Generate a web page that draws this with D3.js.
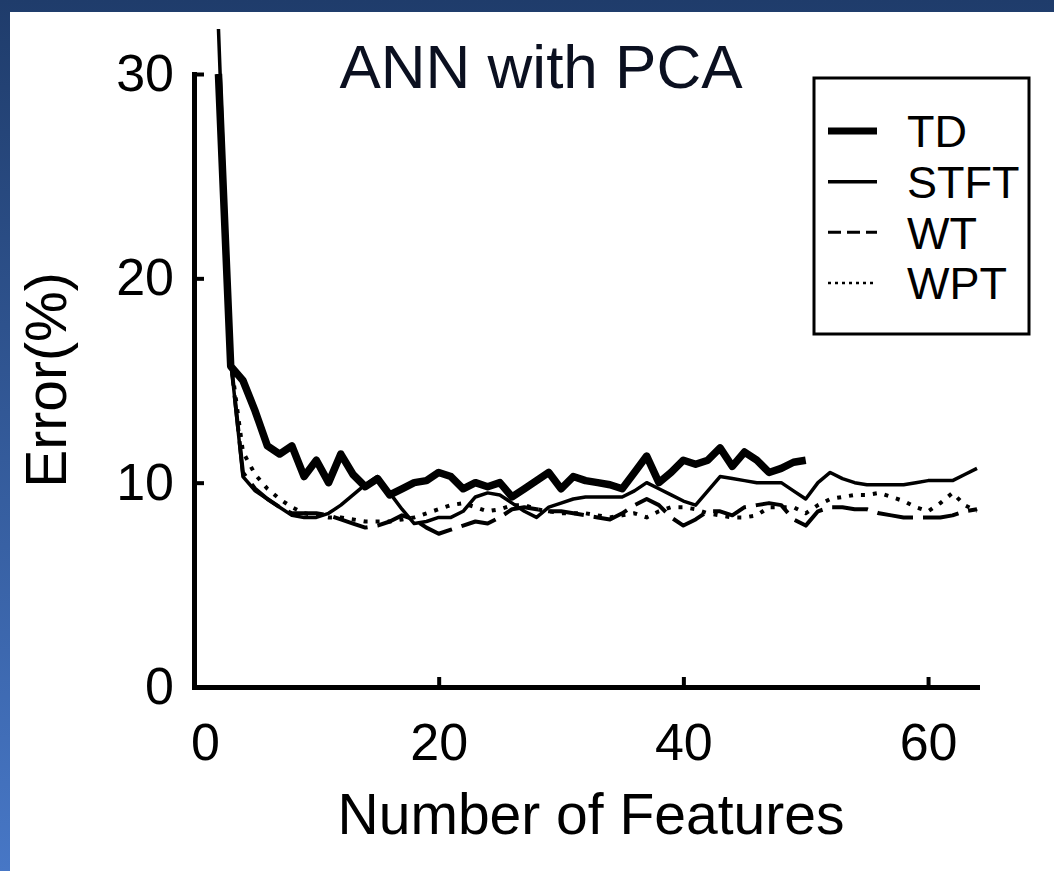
<!DOCTYPE html>
<html>
<head>
<meta charset="utf-8">
<script src="https://cdn.jsdelivr.net/npm/d3@7"></script>
<style>
  html, body { margin: 0; padding: 0; background: #fff; }
  svg { display: block; }
  text { font-family: "Liberation Sans", Arial, sans-serif; }
</style>
</head>
<body>
<svg id="chart" width="1054" height="871"></svg>
<script>
// ---------------- data ----------------
const title = "ANN with PCA";
const xLabel = "Number of Features";
const yLabel = "Error(%)";
const seriesNames = ["TD", "STFT", "WT", "WPT"];
const xTicks = [0, 20, 40, 60];
const yTicks = [0, 10, 20, 30];

// TD: features 2..50
const tdX = d3.range(2, 51);
const tdY = [30.0, 15.7, 15.0, 13.5, 11.8, 11.4, 11.8, 10.3, 11.1, 10.0,
             11.4, 10.4, 9.8, 10.2, 9.4, 9.7, 10.0, 10.1, 10.5, 10.3,
             9.7, 10.0, 9.8, 10.0, 9.3, 9.7, 10.1, 10.5, 9.7, 10.3,
             10.1, 10.0, 9.9, 9.7, 10.5, 11.3, 10.0, 10.5, 11.1, 10.9,
             11.1, 11.7, 10.8, 11.5, 11.1, 10.5, 10.7, 11.0, 11.1];

// STFT: features 2..64
const stftX = d3.range(2, 65);
const stftY = [32.2, 16.0, 10.3, 9.6, 9.2, 8.8, 8.4, 8.3, 8.3, 8.5,
               8.9, 9.4, 9.9, 10.3, 9.5, 8.7, 8.0, 8.1, 8.3, 8.3,
               8.6, 9.3, 9.5, 9.4, 9.0, 8.6, 8.3, 8.8, 9.0, 9.2,
               9.3, 9.3, 9.3, 9.3, 9.6, 10.0, 9.7, 9.4, 9.1, 8.9,
               9.6, 10.3, 10.2, 10.1, 10.0, 10.0, 10.0, 9.6, 9.2, 10.0,
               10.5, 10.2, 10.0, 9.9, 9.9, 9.9, 9.9, 10.0, 10.1, 10.1,
               10.1, 10.4, 10.7];

// WT: features 2..64
const wtX = d3.range(2, 65);
const wtY = [30.0, 16.0, 10.5, 9.7, 9.2, 8.8, 8.5, 8.5, 8.5, 8.4,
             8.2, 8.0, 7.8, 7.9, 8.1, 8.4, 8.2, 7.8, 7.5, 7.7,
             7.9, 8.1, 8.0, 8.3, 8.7, 8.8, 8.7, 8.6, 8.6, 8.5,
             8.4, 8.3, 8.2, 8.5, 8.9, 9.2, 8.9, 8.3, 7.9, 8.2,
             8.6, 8.6, 8.4, 8.8, 8.9, 9.0, 8.9, 8.2, 7.9, 8.6,
             8.8, 8.8, 8.7, 8.7, 8.5, 8.4, 8.3, 8.3, 8.3, 8.3,
             8.4, 8.6, 8.7];

// WPT: features 2..64
const wptX = d3.range(2, 65);
const wptY = [30.0, 16.0, 11.5, 10.4, 9.7, 9.2, 8.8, 8.5, 8.4, 8.3,
              8.3, 8.2, 8.1, 8.1, 8.1, 8.2, 8.3, 8.5, 8.7, 8.9,
              9.0, 8.8, 8.6, 8.7, 8.9, 8.9, 8.7, 8.6, 8.5, 8.5,
              8.5, 8.4, 8.3, 8.4, 8.5, 8.3, 8.6, 8.8, 8.8, 8.7,
              8.5, 8.4, 8.3, 8.3, 8.4, 8.8, 8.8, 8.8, 8.5, 8.9,
              9.2, 9.3, 9.4, 9.4, 9.5, 9.3, 9.1, 8.8, 8.6, 9.0,
              9.5, 8.9, 8.6];

// ---------------- drawing ----------------
const svg = d3.select("#chart");

// blue slide background + white panel
const defs = svg.append("defs");
const grad = defs.append("linearGradient").attr("id", "bg")
  .attr("x1", 0).attr("y1", 0).attr("x2", 0).attr("y2", 1);
grad.append("stop").attr("offset", "0%").attr("stop-color", "#1f3c6b");
grad.append("stop").attr("offset", "100%").attr("stop-color", "#4777c6");
svg.append("rect").attr("width", 1054).attr("height", 871).attr("fill", "url(#bg)");
svg.append("rect").attr("x", 10).attr("y", 12).attr("width", 1044).attr("height", 859).attr("fill", "#fff");

const x = d3.scaleLinear().domain([0, 64]).range([194, 977]);
const y = d3.scaleLinear().domain([0, 30]).range([687, 74]);

// axes
const yAxis = d3.axisLeft(y).tickValues(yTicks).tickSizeInner(-10).tickSizeOuter(0).tickPadding(20);
const xAxis = d3.axisBottom(x).tickValues(xTicks).tickSizeInner(-10).tickSizeOuter(0).tickPadding(36);

const gy = svg.append("g").attr("transform", `translate(${x(0)},0)`).call(yAxis);
const gx = svg.append("g").attr("transform", `translate(0,${y(0)})`).call(xAxis);

[gx, gy].forEach(g => {
  g.select(".domain").attr("stroke", "#000").attr("stroke-width", 5).attr("stroke-linecap", "square");
  g.selectAll(".tick line").attr("stroke", "#000").attr("stroke-width", 4);
  g.selectAll(".tick text").attr("fill", "#000").attr("font-size", 52)
    .attr("font-family", "'Liberation Sans', Arial, sans-serif");
});
gx.selectAll(".tick").filter(d => d === 0).select("line").remove();
gy.selectAll(".tick").filter(d => d === 0).select("line").remove();
gx.selectAll(".tick").filter(d => d === 0).select("text").attr("dx", 11);

// lines
const line = d3.line().x(d => x(d[0])).y(d => y(d[1]));
const zip = (xs, ys) => xs.map((v, i) => [v, ys[i]]);

const styles = {
  TD:   { w: 7.5, dash: null,    legendDash: null,  lw: 7 },
  STFT: { w: 3.5, dash: null,    legendDash: null,  lw: 3.5 },
  WT:   { w: 4,   dash: "36,10", legendDash: "13,6", lw: 3 },
  WPT:  { w: 4,   dash: "4,8",   legendDash: "3,4",  lw: 2.5 }
};
const series = [
  { name: "WPT", pts: zip(wptX, wptY) },
  { name: "WT", pts: zip(wtX, wtY) },
  { name: "STFT", pts: zip(stftX, stftY) },
  { name: "TD", pts: zip(tdX, tdY) }
];
series.forEach(s => {
  const st = styles[s.name];
  svg.append("path").datum(s.pts)
    .attr("d", line)
    .attr("fill", "none")
    .attr("stroke", "#000")
    .attr("stroke-width", st.w)
    .attr("stroke-linejoin", "round")
    .attr("stroke-dasharray", st.dash);
});

// title and axis labels
svg.append("text").attr("x", 541).attr("y", 88).attr("text-anchor", "middle")
  .attr("font-size", 62).attr("fill", "#0b1020").text(title);
svg.append("text").attr("x", 591).attr("y", 834).attr("text-anchor", "middle")
  .attr("font-size", 57).attr("fill", "#000").text(xLabel);
svg.append("text").attr("transform", "translate(66,380) rotate(-90)").attr("text-anchor", "middle")
  .attr("font-size", 57).attr("fill", "#000").text(yLabel);

// legend
const lg = svg.append("g");
lg.append("rect").attr("x", 814).attr("y", 78).attr("width", 215).attr("height", 256)
  .attr("fill", "#fff").attr("stroke", "#000").attr("stroke-width", 3);
const rowY = d3.scalePoint().domain(seriesNames).range([131, 283]);
seriesNames.forEach(n => {
  const st = styles[n];
  lg.append("line").attr("x1", 828).attr("x2", 877).attr("y1", rowY(n)).attr("y2", rowY(n))
    .attr("stroke", "#000").attr("stroke-width", st.lw).attr("stroke-dasharray", st.legendDash);
  lg.append("text").attr("x", 907).attr("y", rowY(n)).attr("dy", "0.36em")
    .attr("font-size", 45).attr("fill", "#000").text(n);
});
</script>
</body>
</html>
